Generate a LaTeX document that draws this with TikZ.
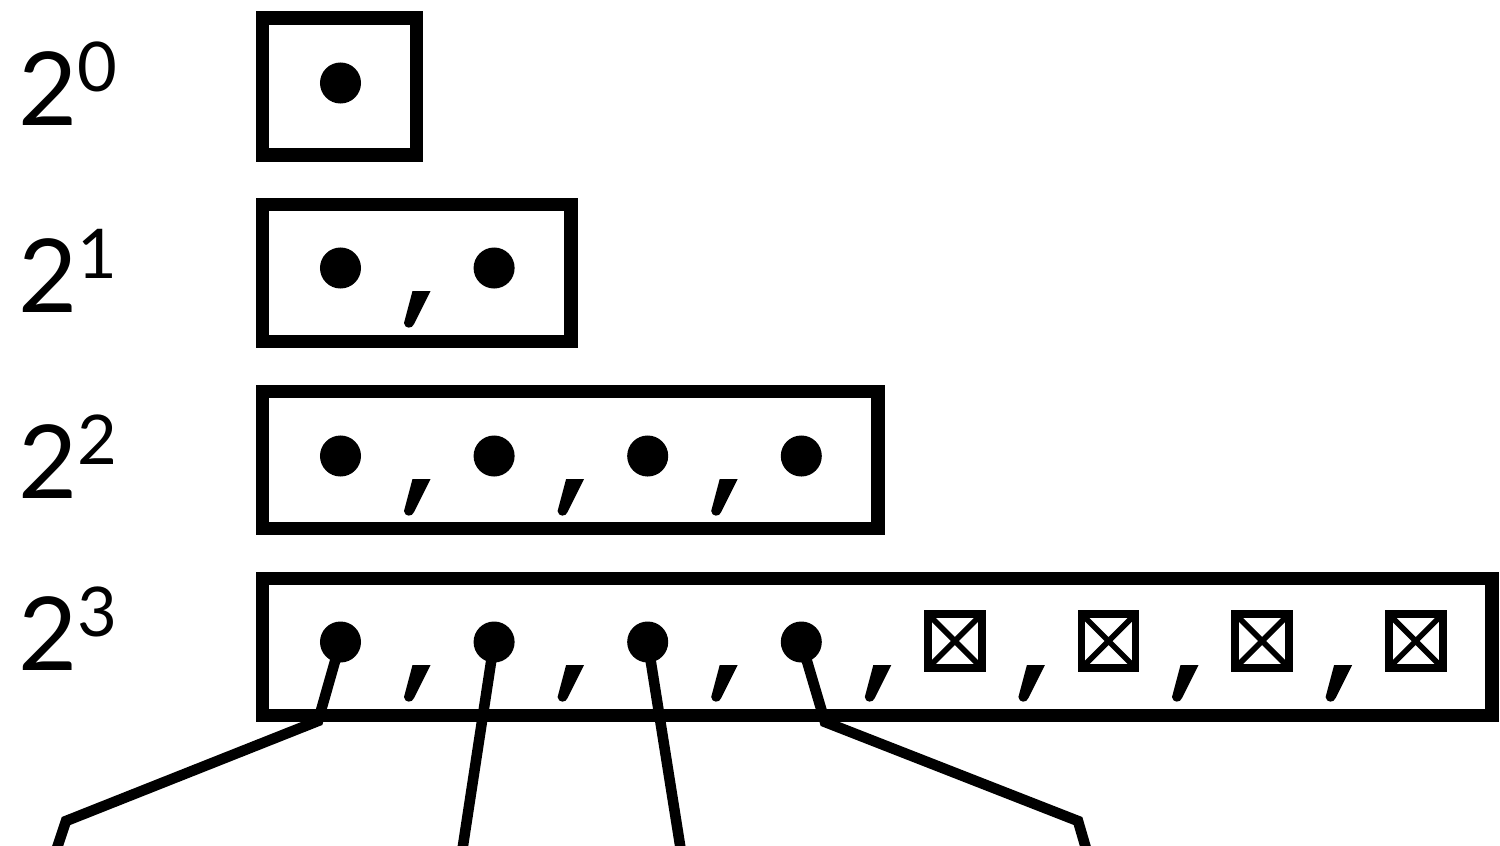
\documentclass[tikz,border=0pt]{standalone}
\usepackage{fontspec}
\setmainfont{Lato}
\usetikzlibrary{positioning}

\newcommand{\powlabel}[1]{2\raisebox{9.4pt}{\fontsize{19.5pt}{20pt}\selectfont #1}}

\begin{document}
\begin{tikzpicture}[
  x=0.01cm, y=-0.01cm,
  cell/.style={
    draw,
    line width=3.9pt,
    inner sep=0pt,
    outer sep=0pt,
    anchor=north west,
    minimum height=1.37cm
  },
  dot/.style={circle,fill,inner sep=0pt,minimum size=0.41cm},
  unused/.style={
    draw,
    line width=2.2pt,
    inner sep=0pt,
    outer sep=0pt,
    minimum size=0.54cm,
    path picture={\draw[line width=1.6pt]
      (path picture bounding box.north west) -- (path picture bounding box.south east)
      (path picture bounding box.north east) -- (path picture bounding box.south west);}
  },
  power/.style={anchor=base west,inner sep=0pt,font=\fontsize{29pt}{30pt}\selectfont},
  line/.style={line width=3pt},
  comma/.pic={\fill (0,0) -- (18,0) -- (1.5,33) .. controls (0,38) and (-8,38) .. (-8.5,32) -- cycle;}
]
\useasboundingbox (0,0) rectangle (1500,845);
\clip (0,0) rectangle (1500,845);

% one row per power of two
\foreach \r/\top/\w/\y/\n/\base in {0/18/1.54/83/1/125, 1/204.5/3.085/268/2/312,
                                    2/391.5/6.15/456/4/498, 3/578.5/12.29/642/8/670} {
  \node[power] (p\r) at (18,\base) {\powlabel{\r}};
  \node[cell,minimum width=\w cm] (row\r) at (262.5,\top) {};
  \foreach \i in {1,...,\n} {
    \pgfmathsetmacro{\xx}{340.5+153.6*(\i-1)}
    \ifnum\i>4
      \node[unused] (u\r\i) at (\xx,\y-1) {};
    \else
      \node[dot] (d\r\i) at (\xx,\y) {};
    \fi
    \ifnum\i<\n
      \pic at (\xx+72,\y+23) {comma};
    \fi
  }
}

% pointers out of the last row
\coordinate (k1) at (318,721);
\coordinate (k2) at (66,821);
\coordinate (e1) at (53,860);
\coordinate (e2) at (460.8,860);
\coordinate (e3) at (682.4,860);
\coordinate (k3) at (825,722);
\coordinate (k4) at (1078,821);
\coordinate (e4) at (1089.4,860);

\draw[line] (d31.center) -- (k1) -- (k2) -- (e1);
\draw[line] (d32.center) -- (e2);
\draw[line] (d33.center) -- (e3);
\draw[line] (d34.center) -- (k3) -- (k4) -- (e4);
\end{tikzpicture}
\end{document}
